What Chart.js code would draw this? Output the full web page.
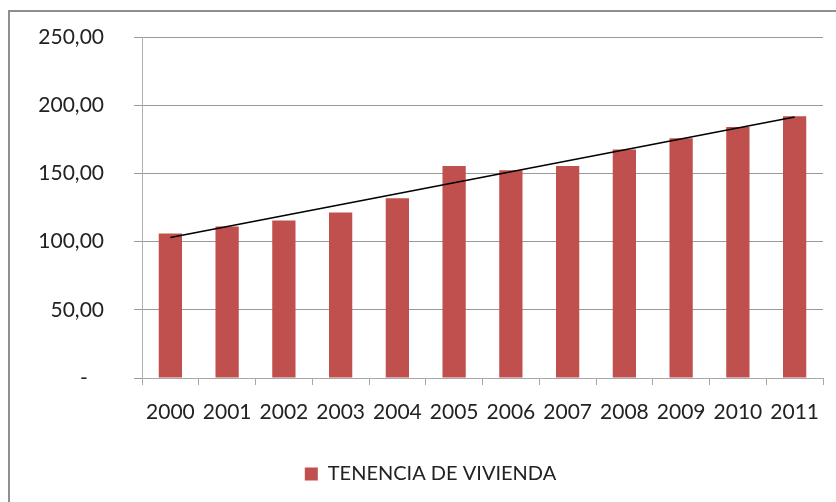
<!DOCTYPE html>
<html>
<head>
<meta charset="utf-8">
<script src="https://cdn.jsdelivr.net/npm/chart.js@4.4.0/dist/chart.umd.min.js"></script>
<style>
  html, body { margin: 0; padding: 0; background: #fff; }
  #wrap { width: 836px; height: 502px; position: relative; }
</style>
</head>
<body>
<div id="wrap"><canvas id="myChart" width="836" height="502"></canvas></div>
<script>
// data
const years = ["2000", "2001", "2002", "2003", "2004", "2005", "2006", "2007", "2008", "2009", "2010", "2011"];
const tenencia = [106, 111, 115.4, 121.3, 131.8, 155.4, 152.4, 155.4, 167.6, 175.7, 184, 191.9];
// trend line, only the two end points are visible
const trend = [103, null, null, null, null, null, null, null, null, null, null, 191.4];
const yTicks = [0, 50, 100, 150, 200, 250];

// grey frame around the whole chart (open on right / bottom)
const framePlugin = {
  id: "frame",
  beforeDraw(chart) {
    const c = chart.ctx;
    c.save();
    c.fillStyle = "#fff";
    c.fillRect(0, 0, chart.width, chart.height);
    c.strokeStyle = "#8f8f8f";
    c.lineWidth = 2;
    c.beginPath();
    c.moveTo(9, chart.height + 5);
    c.lineTo(9, 11);
    c.lineTo(chart.width + 5, 11);
    c.stroke();
    c.restore();
  }
};

const ctx = document.getElementById("myChart").getContext("2d");

const chart = new Chart(ctx, {
  type: "bar",
  data: {
    labels: years,
    datasets: [
      {
        type: "line",
        label: "trend",
        data: trend,
        borderColor: "#000",
        borderWidth: 1.5,
        pointRadius: 0,
        spanGaps: true,
        fill: false,
        order: 0,
      },
      {
        label: "TENENCIA DE VIVIENDA",
        data: tenencia,
        backgroundColor: "#C0504D",
        borderWidth: 0,
        categoryPercentage: 1,
        barPercentage: 0.41,
        order: 1,
      },
    ],
  },
  options: {
    responsive: false,
    animation: false,
    layout: {
      padding: { left: 38, right: 13, top: 37, bottom: 8 },
    },
    plugins: {
      tooltip: { enabled: false },
      legend: {
        position: "bottom",
        labels: {
          filter: (item) => item.text !== "trend",
          boxWidth: 13,
          boxHeight: 13,
          color: "#222",
          padding: 10,
          font: { family: "Lato", size: 20 },
        },
      },
    },
    scales: {
      x: {
        offset: true,
        grid: {
          offset: true,
          drawOnChartArea: false,
          drawTicks: true,
          tickLength: 7,
          color: "#a8a8a8",
        },
        border: { color: "#a8a8a8", width: 1 },
        ticks: {
          color: "#222",
          padding: 15,
          maxRotation: 0,
          font: { family: "Lato", size: 21 },
        },
        afterFit(scale) { scale.height = 76; },
      },
      y: {
        min: 0,
        max: 250,
        afterBuildTicks(scale) {
          scale.ticks = yTicks.map((v) => ({ value: v }));
        },
        grid: {
          color: "#9a9a9a",
          tickLength: 8,
        },
        border: { color: "#b0b0b0", width: 1 },
        ticks: {
          color: "#222",
          padding: 30,
          font: { family: "Lato", size: 21 },
          // accounting style: zero shows as a dash
          callback: (v) => (v === 0 ? "-   " : v.toFixed(2).replace(".", ",")),
        },
        afterFit(scale) {
          scale.width = 104;
          scale.paddingTop = 0;
          scale.paddingBottom = 0;
        },
      },
    },
  },
  plugins: [framePlugin],
});
</script>
</body>
</html>
